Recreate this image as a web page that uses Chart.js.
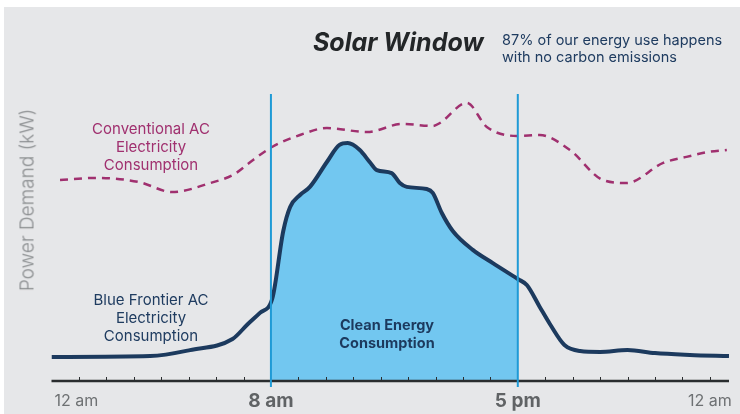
<!DOCTYPE html>
<html>
<head>
<meta charset="utf-8">
<script src="https://cdn.jsdelivr.net/npm/chart.js@4/dist/chart.umd.min.js"></script>
<style>
  body { margin: 0; background: #fff; font-family: Inter, "Noto Sans", sans-serif; }
  #wrap { position: relative; width: 740px; height: 414px; }
  #panel { position: absolute; left: 4px; top: 7px; right: 0; bottom: 0; background: #e6e7e9; }
  #wrap canvas { position: absolute; left: 0; top: 0; }
  .t { position: absolute; white-space: nowrap; }
  #title { left: 313px; top: 27px; font-size: 25px; font-weight: 700; font-style: italic; color: #232628; }
  #sub { left: 502px; top: 31px; font-size: 14.5px; line-height: 17px; color: #1f3c60; }
  .note { width: 200px; margin-left: -100px; text-align: center; font-size: 15px; line-height: 18px; }
  #conv { left: 151px; top: 120px; color: #a0306f; }
  #front { left: 151px; top: 291px; color: #1f3c60; }
  #clean { left: 387px; top: 316px; color: #1c3a5e; font-weight: 700; font-size: 14.5px; }
  #ytitle { left: 27px; top: 200px; transform: translate(-50%, -50%) rotate(-90deg); font-size: 19px; font-weight: 300; color: #8a8d8f; }
</style>
</head>
<body>
<div id="wrap">
  <div id="panel"></div>
  <canvas id="solarChart" width="740" height="414"></canvas>
  <div class="t" id="title">Solar Window</div>
  <div class="t" id="sub">87% of our energy use happens<br>with no carbon emissions</div>
  <div class="t note" id="conv">Conventional AC<br>Electricity<br>Consumption</div>
  <div class="t note" id="front">Blue Frontier AC<br>Electricity<br>Consumption</div>
  <div class="t note" id="clean">Clean Energy<br>Consumption</div>
  <div class="t" id="ytitle">Power Demand (kW)</div>
</div>
<script>
// hours of day vs demand (relative kW)
const frontierHours = [0, 3.6, 5.05, 6.6, 7.16, 7.6, 8.05, 8.45, 8.7, 9.06, 9.42, 10.04, 10.5, 10.8, 11.24, 11.6, 11.86, 12.4, 12.7, 12.95, 13.68, 13.9, 14.23, 14.63, 15.36, 16.09, 17, 17.33, 17.8, 18.17, 18.7, 19.27, 20, 21, 22, 23.27, 24.7];
const frontierKw = [8, 8.3, 10.3, 14, 19, 22.7, 27.5, 50, 58, 62, 64.7, 73, 78.7, 79.3, 77, 73, 70.3, 69.3, 66, 64.7, 64, 62.7, 56, 50, 43.7, 39.3, 34, 32, 24.7, 19, 12, 10, 9.7, 10.3, 9.3, 8.7, 8.3];

const conventionalHours = [0.31, 1.66, 3.2, 4.39, 5.9, 6.62, 7.35, 8.04, 9.06, 10.04, 11.5, 12.8, 13.9, 14.16, 15.14, 15.87, 16.96, 17.8, 18.9, 20.1, 20.97, 22.3, 23.15, 23.9, 24.62];
const conventionalKw = [67, 67.7, 66.3, 63, 66.3, 68.7, 73.7, 78, 82, 84.3, 83, 85.7, 85, 86, 92.7, 84.7, 81.7, 82, 77, 67, 66, 72.7, 74.7, 76.3, 77];

const solarStart = 8;
const solarEnd = 17;
const minorTicks = [1, 2, 3, 4, 5, 6, 7, 9, 10, 11, 12, 13, 14, 15, 16, 18, 19, 20, 21, 22, 23, 24];
const tickHours = [0, 8, 17, 24];
const tickLabels = ["12 am", "8 am", "5 pm", "12 am"];

const frontier = frontierHours.map((h, i) => ({ x: h, y: frontierKw[i] }));
const conventional = conventionalHours.map((h, i) => ({ x: h, y: conventionalKw[i] }));

const solarPlugin = {
    id: "solar",
    beforeDatasetDraw(chart, args) {
        if (args.index !== 2) return;
        const x = chart.scales.x, a = chart.chartArea;
        const ctx = chart.ctx;
        ctx.save();
        ctx.beginPath();
        ctx.rect(x.getPixelForValue(solarStart), a.top, x.getPixelForValue(solarEnd) - x.getPixelForValue(solarStart), a.bottom - a.top);
        ctx.clip();
    },
    afterDatasetDraw(chart, args) {
        if (args.index !== 2) return;
        chart.ctx.restore();
    },
    afterDatasetsDraw(chart) {
        const ctx = chart.ctx, x = chart.scales.x, y = chart.scales.y, a = chart.chartArea;
        const base = y.getPixelForValue(0);
        ctx.save();
        // axis line
        ctx.strokeStyle = "#2a2d2f";
        ctx.lineWidth = 2.5;
        ctx.beginPath();
        ctx.moveTo(a.left, base);
        ctx.lineTo(a.right, base);
        ctx.stroke();
        ctx.lineWidth = 1;
        minorTicks.forEach(h => {
            const px = Math.round(x.getPixelForValue(h)) + 0.5;
            ctx.beginPath();
            ctx.moveTo(px, base);
            ctx.lineTo(px, base - 4);
            ctx.stroke();
        });
        // solar window lines
        ctx.strokeStyle = "#1f9ad6";
        ctx.lineWidth = 2;
        [solarStart, solarEnd].forEach(h => {
            const px = x.getPixelForValue(h);
            ctx.beginPath();
            ctx.moveTo(px, y.getPixelForValue(95.7));
            ctx.lineTo(px, base + 6);
            ctx.stroke();
        });
        // hour labels
        ctx.textBaseline = "middle";
        tickHours.forEach((h, i) => {
            const bold = h === solarStart || h === solarEnd;
            ctx.font = bold ? "700 19px Inter" : "400 16px Inter";
            ctx.fillStyle = bold ? "#606365" : "#6e7173";
            ctx.textAlign = i === 0 ? "left" : "center";
            ctx.fillText(tickLabels[i], x.getPixelForValue(h) + (i === 0 ? 3 : 0), base + 20);
        });
        ctx.restore();
    }
};

// the clip has to be set before the filler paints, so register it ahead of filler
const filler = Chart.registry.plugins.get("filler");
Chart.unregister(filler);
Chart.register(solarPlugin, filler);

new Chart(document.getElementById("solarChart"), {
    type: "line",
    data: {
        datasets: [{
            label: "Blue Frontier AC",
            data: frontier,
            borderColor: "#1c3a5e",
            borderWidth: 4,
            pointRadius: 0,
            cubicInterpolationMode: "monotone",
            fill: false
        }, {
            label: "Conventional AC",
            data: conventional,
            borderColor: "#a0306f",
            borderWidth: 2.5,
            borderDash: [8, 6],
            pointRadius: 0,
            cubicInterpolationMode: "monotone",
            fill: false
        }, {
            label: "Clean Energy",
            data: frontier,
            borderWidth: 0,
            borderColor: "rgba(0,0,0,0)",
            backgroundColor: "#72c7f0",
            pointRadius: 0,
            cubicInterpolationMode: "monotone",
            fill: "origin"
        }]
    },
    options: {
        responsive: false,
        animation: false,
        devicePixelRatio: 1,
        layout: { padding: { left: 51.5, right: 11, top: 81, bottom: 33 } },
        plugins: { legend: { display: false }, tooltip: { enabled: false } },
        scales: {
            x: { type: "linear", min: 0, max: 24.7, display: false },
            y: { min: 0, max: 100, display: false }
        }
    }
});
</script>
</body>
</html>
